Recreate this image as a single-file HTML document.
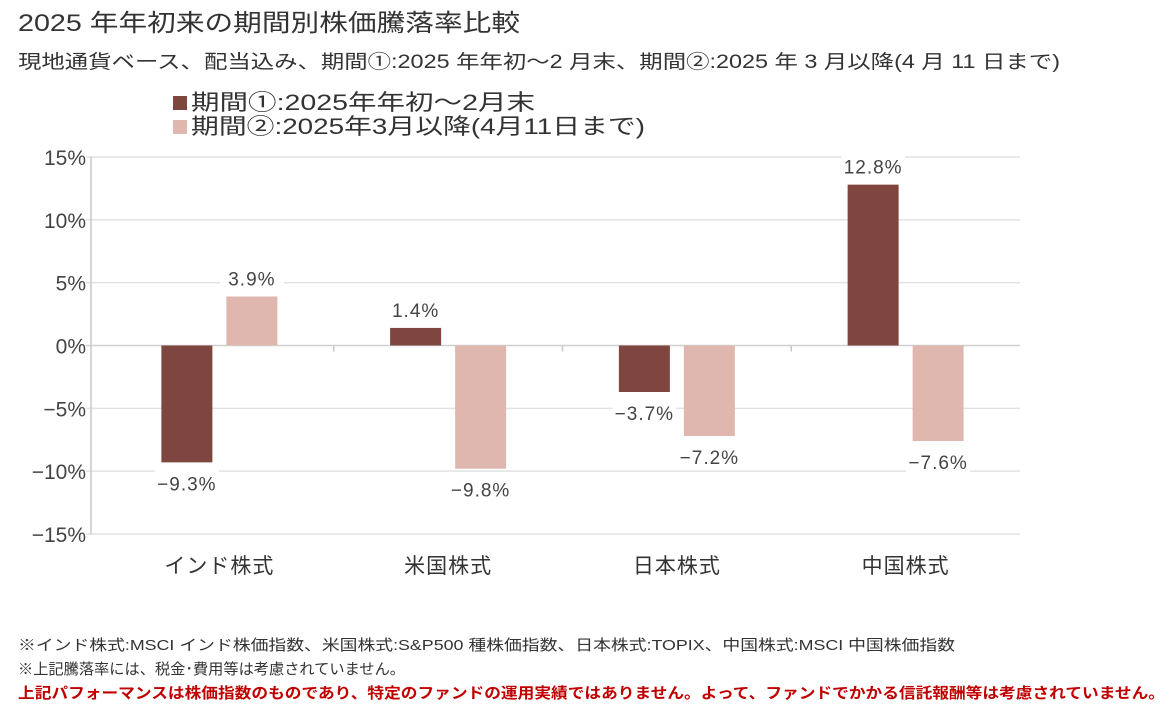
<!DOCTYPE html>
<html><head><meta charset="utf-8">
<style>
body{margin:0;background:#fff;width:1175px;height:712px;overflow:hidden;font-family:"Liberation Sans","Noto Sans CJK JP",sans-serif;color:#333}
</style></head><body>
<svg width="1175" height="712" style="position:absolute;left:0;top:0;font-family:'Liberation Sans','Noto Sans CJK JP',sans-serif">
<text x="18" y="31" font-size="24" fill="#333" textLength="502" lengthAdjust="spacingAndGlyphs">2025 年年初来の期間別株価騰落率比較</text>
<text x="18" y="68" font-size="19" fill="#333" textLength="1042" lengthAdjust="spacingAndGlyphs">現地通貨ベース、配当込み、期間①:2025 年年初～2 月末、期間②:2025 年 3 月以降(4 月 11 日まで)</text>
<g id="legend">
<rect x="173" y="96" width="14" height="14" fill="#7f4640"/>
<text x="191" y="110" font-size="22" fill="#333" textLength="344" lengthAdjust="spacingAndGlyphs">期間①:2025年年初～2月末</text>
<rect x="173" y="120" width="14" height="14" fill="#dfb7af"/>
<text x="191" y="134" font-size="22" fill="#333" textLength="454" lengthAdjust="spacingAndGlyphs">期間②:2025年3月以降(4月11日まで)</text>
</g>
<g id="grid"></g><g id="bars"></g><g id="labels"></g>
<text x="18" y="650" font-size="15" fill="#333" textLength="937" lengthAdjust="spacingAndGlyphs">※インド株式:MSCI インド株価指数、米国株式:S&amp;P500 種株価指数、日本株式:TOPIX、中国株式:MSCI 中国株価指数</text>
<text x="18" y="674" font-size="15" fill="#333" textLength="387" lengthAdjust="spacingAndGlyphs">※上記騰落率には、税金･費用等は考慮されていません。</text>
<text x="18" y="698" font-size="15" fill="#c00000" font-weight="bold" textLength="1147" lengthAdjust="spacingAndGlyphs">上記パフォーマンスは株価指数のものであり、特定のファンドの運用実績ではありません。よって、ファンドでかかる信託報酬等は考慮されていません。</text>
</svg>
<script>
const categories=["インド株式","米国株式","日本株式","中国株式"];
const period1=[-9.3,1.4,-3.7,12.8];
const period2=[3.9,-9.8,-7.2,-7.6];
const yTicks=[15,10,5,0,-5,-10,-15];
const NS="http://www.w3.org/2000/svg";
const x0=105,x1=1020,yTop=157,yBot=534,axisX=91;
const band=(x1-x0)/categories.length;
function y(v){return yTop+(15-v)/30*(yBot-yTop);}
function bx(i){return x0+band*i+band/2;}
function mk(tag,attrs,parent){const e=document.createElementNS(NS,tag);for(const k in attrs)e.setAttribute(k,attrs[k]);document.getElementById(parent).appendChild(e);return e;}
yTicks.forEach(t=>{
  const g=mk('line',{x1:axisX-5,x2:x1,y1:y(t),y2:y(t),stroke:t===0?'#d0d0d0':'#e2e2e2','stroke-width':1.5},'grid');
  
  
  const l=mk('text',{x:axisX-5,y:y(t)+8,'text-anchor':'end','font-size':21,fill:'#444'},'grid');
  l.textContent=(t<0?'−':'')+Math.abs(t)+'%';
  
  
});
const ax=mk('line',{x1:axisX,x2:axisX,y1:yTop,y2:yBot,stroke:'#c8c8c8','stroke-width':1.5},'grid');


for(let i=1;i<categories.length;i++){
  const tk=mk('line',{x1:x0+band*i,x2:x0+band*i,y1:y(0),y2:y(0)+6,stroke:'#c8c8c8','stroke-width':1.5},'grid');
  
  
}
const bw=51,gap=14;
function fmt(v){return (v<0?'−':'')+Math.abs(v).toFixed(1)+'%';}
categories.forEach((c,i)=>{
  const cx=bx(i);
  [[period1[i],'#7f4640',cx-gap/2-bw,'bar-period1'],[period2[i],'#dfb7af',cx+gap/2,'bar-period2']].forEach(([v,col,bxx,nm])=>{
    const top=Math.min(y(v),y(0)),h=Math.abs(y(v)-y(0));
    const r=mk('rect',{x:bxx,y:top,width:bw,height:h,fill:col},'bars');
    
    
    const ly=v>=0?y(v)-11:y(v)+28;
    const bg=mk('rect',{x:bxx+bw/2-32,y:ly-20,width:64,height:26,fill:'#fff'},'labels');
    
    
    const t=mk('text',{x:bxx+bw/2,y:ly,'text-anchor':'middle','font-size':19,fill:'#444','letter-spacing':1},'labels');
    t.textContent=fmt(v);
    
    
  });
  const cl=mk('text',{x:cx,y:573,'text-anchor':'middle','font-size':21,fill:'#333','letter-spacing':1},'labels');
  cl.textContent=c;
  
  
});
</script>
</body></html>
